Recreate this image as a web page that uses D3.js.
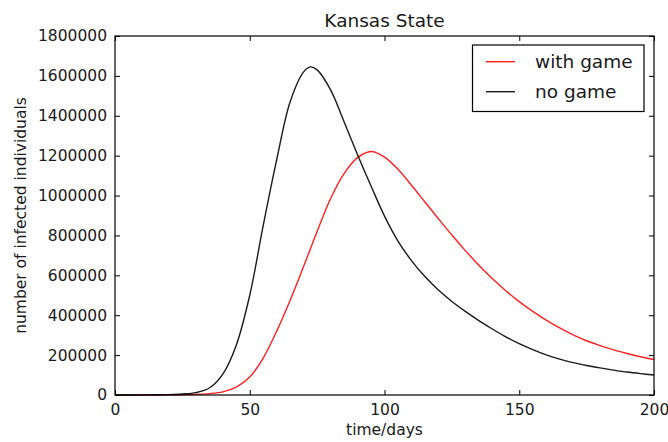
<!DOCTYPE html>
<html>
<head>
<meta charset="utf-8">
<script src="https://cdn.jsdelivr.net/npm/d3@7"></script>
<style>
  html, body { margin: 0; padding: 0; background: #fff; }
  svg { display: block; }
  text { font-family: "DejaVu Sans", sans-serif; fill: #1a1a1a; }
</style>
</head>
<body>
<svg id="chart" width="668" height="442"></svg>
<script>
// Simulated epidemic curves: infected individuals per day
const days = [0, 5, 10, 15, 20, 25, 30, 35, 40, 45, 50, 55, 60, 65, 70, 72.5, 75, 80, 85, 90, 95,
  100, 105, 110, 115, 120, 125, 130, 135, 140, 145, 150, 155, 160, 165, 170, 175, 180, 185, 190, 195, 200];
const noGame = [0, 200, 500, 1000, 2000, 5000, 12000, 35000, 105000, 250000, 500000, 850000, 1180000,
  1470000, 1620000, 1645000, 1630000, 1530000, 1370000, 1205000, 1048000,
  897000, 772000, 674000, 594000, 526000, 469000, 419000, 373000, 331000, 292000, 257000, 227000,
  201000, 180000, 162000, 148000, 136000, 125000, 115000, 107000, 100000];

const daysGame = [0, 10, 20, 25, 30, 35, 40, 45, 50, 55, 60, 65, 70, 75, 80, 85, 90, 95,
  100, 105, 110, 115, 120, 125, 130, 135, 140, 145, 150, 155, 160, 165, 170, 175, 180, 185, 190, 195, 200];
const withGame = [0, 200, 800, 1500, 3000, 7000, 16000, 40000, 90000, 185000, 320000, 475000, 645000,
  820000, 985000, 1110000, 1190000, 1221000,
  1193000, 1132000, 1052000, 968000, 884000, 802000, 724000, 651000, 584000, 523000, 468000, 419000,
  375000, 336000, 302000, 272000, 248000, 226000, 208000, 192000, 178000];

const xTicks = [0, 50, 100, 150, 200];
const yTicks = [0, 200000, 400000, 600000, 800000, 1000000, 1200000, 1400000, 1600000, 1800000];

const seriesNames = ["with game", "no game"];
const seriesColors = ["#ff2020", "#1a1a1a"];

const svg = d3.select("#chart");
const m = { left: 115, right: 654, top: 36, bottom: 395 };

const x = d3.scaleLinear().domain([0, 200]).range([m.left, m.right]);
const y = d3.scaleLinear().domain([0, 1800000]).range([m.bottom, m.top]);

const line = d3.line()
  .x(d => x(d[0]))
  .y(d => Math.min(y(d[1]), m.bottom))
  .curve(d3.curveCatmullRom.alpha(0.5));

const series = [
  { name: seriesNames[0], color: seriesColors[0], pts: daysGame.map((d, i) => [d, withGame[i]]) },
  { name: seriesNames[1], color: seriesColors[1], pts: days.map((d, i) => [d, noGame[i]]) }
];

// curves
svg.append("g").selectAll("path").data(series).join("path")
  .attr("d", s => line(s.pts))
  .attr("fill", "none")
  .attr("stroke", s => s.color)
  .attr("stroke-width", 1.4);

// axes with inward ticks on all four sides
const fmt = d3.format("d");
const gB = svg.append("g").attr("transform", `translate(0,${m.bottom})`)
  .call(d3.axisBottom(x).tickValues(xTicks).tickFormat(fmt).tickSizeInner(-5).tickSizeOuter(0).tickPadding(9));
const gL = svg.append("g").attr("transform", `translate(${m.left},0)`)
  .call(d3.axisLeft(y).tickValues(yTicks).tickFormat(fmt).tickSizeInner(-5).tickSizeOuter(0).tickPadding(8));
const gT = svg.append("g").attr("transform", `translate(0,${m.top})`)
  .call(d3.axisTop(x).tickValues(xTicks).tickFormat("").tickSizeInner(-5).tickSizeOuter(0));
const gR = svg.append("g").attr("transform", `translate(${m.right},0)`)
  .call(d3.axisRight(y).tickValues(yTicks).tickFormat("").tickSizeInner(-5).tickSizeOuter(0));

[gB, gL, gT, gR].forEach(g => {
  g.select(".domain").remove();
  g.selectAll(".tick line").attr("stroke", "#000").attr("stroke-width", 1);
  g.selectAll("text").style("font-family", "DejaVu Sans, sans-serif").style("font-size", "15.5px").attr("fill", "#1a1a1a");
});

// frame
svg.append("rect")
  .attr("x", m.left).attr("y", m.top)
  .attr("width", m.right - m.left).attr("height", m.bottom - m.top)
  .attr("fill", "none").attr("stroke", "#000").attr("stroke-width", 1.2);

// title and axis labels
svg.append("text").attr("x", (m.left + m.right) / 2).attr("y", 27)
  .attr("text-anchor", "middle").style("font-size", "18.5px").text("Kansas State");
svg.append("text").attr("x", (m.left + m.right) / 2).attr("y", 435)
  .attr("text-anchor", "middle").style("font-size", "15.5px").text("time/days");
svg.append("text")
  .attr("transform", `translate(26,${(m.top + m.bottom) / 2}) rotate(-90)`)
  .attr("text-anchor", "middle").style("font-size", "15.5px").text("number of infected individuals");

// legend
const lg = svg.append("g");
lg.append("rect").attr("x", 472.5).attr("y", 45).attr("width", 171.5).attr("height", 66.5)
  .attr("fill", "#fff").attr("stroke", "#000").attr("stroke-width", 1.2);
series.forEach((s, i) => {
  const yy = 61.7 + i * 30;
  lg.append("line").attr("x1", 486).attr("x2", 515).attr("y1", yy).attr("y2", yy)
    .attr("stroke", s.color).attr("stroke-width", 1.4);
  lg.append("text").attr("x", 535).attr("y", yy).attr("dy", "0.35em")
    .style("font-size", "18.5px").text(s.name);
});
</script>
</body>
</html>
